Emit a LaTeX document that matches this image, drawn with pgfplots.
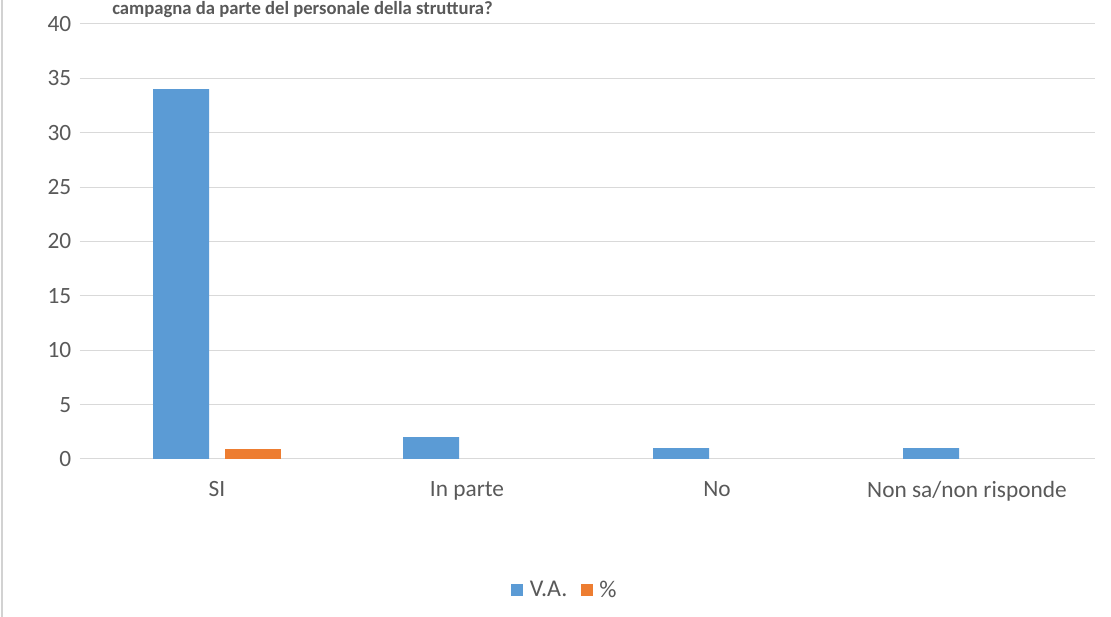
\documentclass[border=0pt]{standalone}
\usepackage{fontspec}
\setmainfont{Carlito}
\usepackage{pgfplots}
\pgfplotsset{compat=1.18}
\definecolor{vablue}{HTML}{5B9BD5}
\definecolor{pcorange}{HTML}{ED7D31}
\definecolor{txtgray}{HTML}{595959}
\definecolor{gridgray}{HTML}{D9D9D9}
\begin{document}
\begin{tikzpicture}
\useasboundingbox (0pt,0pt) rectangle (833.25pt,462.75pt);
\draw[draw=gray!35, line width=1.5pt] (1.5pt,0pt) -- (1.5pt,462.75pt);
\node[anchor=north west, font=\bfseries\fontsize{14}{16}\selectfont, text=txtgray, inner sep=0pt] at (84pt,462pt) {campagna da parte del personale della struttura?};
\begin{axis}[
  at={(60pt,118.5pt)}, anchor=south west,
  scale only axis, width=761.25pt, height=326.25pt,
  ybar=12pt, bar width=42pt,
  xmin=-0.548, xmax=3.512, ymin=0, ymax=40,
  ytick={0,5,...,40},
  xtick={0,1,2,3},
  xticklabels={SI,In parte,No,Non sa/non risponde},
  axis x line*=bottom, axis y line*=left,
  y axis line style={draw=none},
  x axis line style={draw=gridgray, line width=0.75pt},
  ymajorgrids, grid style={draw=gridgray, line width=0.75pt},
  major tick length=0pt,
  tick label style={font=\fontsize{17.5}{20}\selectfont, text=txtgray},
  /pgf/number format/assume math mode=true,
  yticklabel style={xshift=-3pt},
  xticklabel style={yshift=-13pt},
  legend style={at={(0.478,-0.301)}, anchor=center, draw=none, legend columns=-1,
    font=\fontsize{18}{20}\selectfont, text=txtgray,
    /tikz/every even column/.append style={column sep=8pt},
    /tikz/every odd column/.append style={column sep=3pt}},
  legend image code/.code={\fill[#1] (0pt,-4.5pt) rectangle (9pt,4.5pt);},
  clip=false,
]
\addplot[fill=vablue, draw=none] coordinates {(0,34) (1,2) (2,1) (3,1)};
\addplot[fill=pcorange, draw=none] coordinates {(0,0.89)};
\legend{V.A.,\%}
\end{axis}
\end{tikzpicture}
\end{document}
